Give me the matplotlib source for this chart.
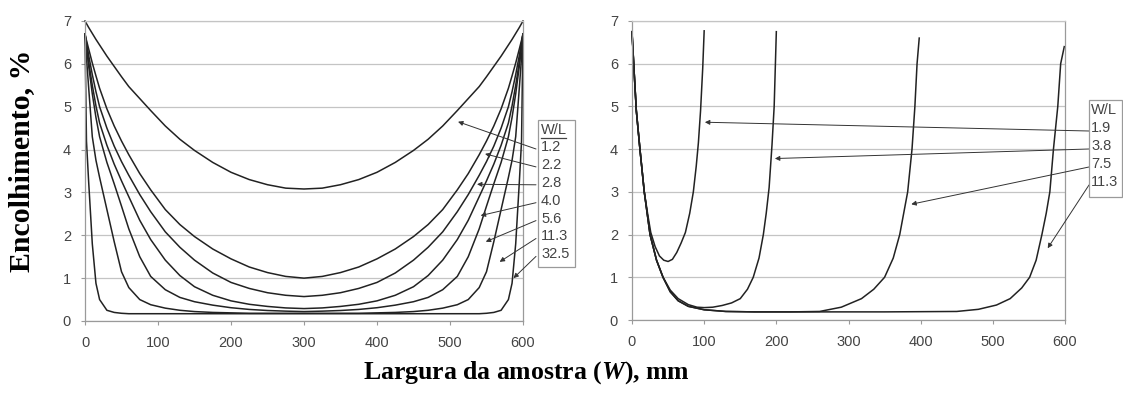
import matplotlib
matplotlib.use('Agg')
import matplotlib.pyplot as plt
import numpy as np
from matplotlib.patches import Rectangle

plt.rcParams['mathtext.fontset'] = 'custom'
plt.rcParams['mathtext.rm'] = 'Liberation Serif:bold'
plt.rcParams['mathtext.it'] = 'Liberation Serif:italic:bold'

# left panel: half curves (0..300 mm), symmetric about 300
x_half = [0, 2, 5, 10, 15, 20, 30, 40, 50, 60, 75, 90, 110, 130, 150, 175, 200, 225, 250, 275, 300]
wl_left = ['1.2', '2.2', '2.8', '4.0', '5.6', '11.3', '32.5']
y_12 = [7.0, 6.94, 6.85, 6.71, 6.57, 6.44, 6.18, 5.94, 5.70, 5.47, 5.19, 4.91, 4.55, 4.24, 3.98, 3.70, 3.47, 3.30, 3.18, 3.10, 3.08]
y_22 = [6.7, 6.55, 6.35, 6.02, 5.72, 5.43, 4.95, 4.55, 4.2, 3.88, 3.44, 3.06, 2.6, 2.25, 1.97, 1.68, 1.45, 1.26, 1.13, 1.04, 1.0]
y_28 = [6.7, 6.5, 6.2, 5.75, 5.35, 5.0, 4.5, 4.08, 3.72, 3.4, 2.95, 2.55, 2.08, 1.72, 1.42, 1.12, 0.9, 0.76, 0.66, 0.6, 0.57]
y_40 = [6.7, 6.45, 6.05, 5.5, 5.02, 4.62, 4.1, 3.66, 3.27, 2.9, 2.35, 1.9, 1.42, 1.06, 0.8, 0.6, 0.47, 0.39, 0.34, 0.305, 0.29]
y_56 = [6.7, 6.4, 5.95, 5.3, 4.75, 4.3, 3.7, 3.2, 2.68, 2.15, 1.5, 1.04, 0.73, 0.55, 0.45, 0.37, 0.31, 0.27, 0.245, 0.23, 0.22]
y_113 = [6.7, 6.15, 5.45, 4.3, 3.75, 3.35, 2.6, 1.85, 1.15, 0.78, 0.5, 0.38, 0.3, 0.25, 0.22, 0.2, 0.19, 0.18, 0.18, 0.18, 0.18]
y_325 = [6.7, 4.2, 3.25, 1.8, 0.88, 0.5, 0.25, 0.2, 0.18, 0.17, 0.17, 0.17, 0.17, 0.17, 0.17, 0.17, 0.17, 0.17, 0.17, 0.17, 0.17]
left_curves = [y_12, y_22, y_28, y_40, y_56, y_113, y_325]
arrow_left_x = [511, 548, 537, 542, 549, 568, 587]
arrow_left_y = [4.65, 3.9, 3.19, 2.46, 1.85, 1.38, 1.0]

# right panel
wl_right = ['1.9', '3.8', '7.5', '11.3']
x_19 = [0, 3, 6, 11, 17, 22, 26, 32, 38, 44, 50, 56, 62, 68, 74, 80, 85, 89, 92, 95, 98, 100]
y_19 = [6.72, 5.8, 4.9, 4.0, 3.0, 2.45, 2.05, 1.72, 1.5, 1.4, 1.37, 1.42, 1.58, 1.8, 2.05, 2.5, 3.0, 3.6, 4.15, 4.9, 5.9, 6.77]
x_38 = [0, 3, 6, 11, 17, 25, 34, 43, 53, 64, 78, 90, 100, 112, 125, 138, 150, 160, 168, 176, 182, 186, 190, 194, 197, 200]
y_38 = [6.75, 5.8, 4.9, 4.0, 3.0, 2.0, 1.4, 1.0, 0.7, 0.5, 0.36, 0.3, 0.29, 0.3, 0.34, 0.4, 0.5, 0.72, 1.0, 1.45, 2.0, 2.5, 3.1, 4.1, 5.0, 6.75]
x_75 = [0, 3, 6, 11, 17, 25, 34, 43, 53, 64, 78, 100, 130, 170, 220, 260, 290, 318, 335, 350, 362, 371, 382, 388, 392, 395, 398]
y_75 = [6.75, 5.8, 4.9, 4.0, 3.0, 2.0, 1.4, 1.0, 0.66, 0.45, 0.32, 0.24, 0.2, 0.19, 0.19, 0.2, 0.3, 0.5, 0.72, 1.0, 1.45, 2.0, 3.0, 4.0, 5.0, 6.0, 6.6]
x_113r = [0, 3, 6, 11, 17, 25, 34, 43, 53, 64, 78, 100, 130, 170, 250, 350, 450, 480, 505, 524, 540, 551, 560, 568, 574, 579, 584, 590, 594, 599]
y_113r = [6.75, 5.8, 4.9, 4.0, 3.0, 2.0, 1.4, 1.0, 0.66, 0.45, 0.32, 0.24, 0.2, 0.19, 0.19, 0.19, 0.2, 0.25, 0.35, 0.5, 0.75, 1.0, 1.4, 2.0, 2.5, 3.0, 4.0, 5.0, 6.0, 6.4]
right_curves = [(x_19, y_19), (x_38, y_38), (x_75, y_75), (x_113r, y_113r)]
arrow_right_x = [101, 198, 387, 576]
arrow_right_y = [4.63, 3.78, 2.71, 1.68]

W, H = 1123, 396
def fp(px, py):
    return (px / W, 1 - py / H)

fig = plt.figure(figsize=(W / 100, H / 100), dpi=100)
ax1 = fig.add_axes([85 / W, 1 - 321 / H, 438 / W, 300 / H])
ax2 = fig.add_axes([632 / W, 1 - 320 / H, 433 / W, 299 / H])

grid_c = '#c4c4c4'
spine_c = '#9a9a9a'
line_c = '#222222'
txt_c = '#444444'

for ax in (ax1, ax2):
    ax.set_xlim(0, 600)
    ax.set_ylim(0, 7)
    ax.set_xticks(np.arange(0, 601, 100))
    ax.set_yticks(np.arange(0, 8, 1))
    ax.grid(axis='y', color=grid_c, lw=0.9)
    ax.set_axisbelow(True)
    for s in ax.spines.values():
        s.set_color(spine_c)
        s.set_linewidth(0.9)
    ax.spines['top'].set_color(grid_c)
    ax.tick_params(direction='out', length=3, color=spine_c, labelcolor=txt_c, labelsize=10.5,
                   labelfontfamily='Liberation Sans')
    ax.tick_params(axis='x', pad=8)
    ax.tick_params(axis='y', pad=7)

x_half_a = np.array(x_half, dtype=float)
x_full = np.concatenate([x_half_a, 600 - x_half_a[-2::-1]])
for y in left_curves:
    y = np.array(y)
    ax1.plot(x_full, np.concatenate([y, y[-2::-1]]), color=line_c, lw=1.1, clip_on=False)

for xs, ys in right_curves:
    ax2.plot(xs, ys, color=line_c, lw=1.1, clip_on=False)

arrow_kw = dict(arrowstyle='-|>', color='#333333', lw=0.7, mutation_scale=7, shrinkA=0, shrinkB=0)

# left legend box
fig.patches.append(Rectangle(fp(538, 267), 37 / W, 147 / H, transform=fig.transFigure,
                             fill=False, edgecolor=spine_c, lw=0.9))
fig.text(*fp(541, 130), 'W/L', fontsize=10.5, color=txt_c, family='Liberation Sans', va='center', ha='left')
fig.add_artist(plt.Line2D([541 / W, 566 / W], [1 - 138 / H, 1 - 138 / H], color=txt_c, lw=0.9))
for i, lab in enumerate(wl_left):
    ly = 147 + i * 17.9
    fig.text(*fp(541, ly), lab, fontsize=10.5, color=txt_c, family='Liberation Sans', va='center', ha='left')
    ax1.annotate('', xy=(arrow_left_x[i], arrow_left_y[i]), xycoords='data',
                 xytext=fp(536, ly + 2), textcoords='figure fraction',
                 arrowprops=arrow_kw, annotation_clip=False)

# right legend box
fig.patches.append(Rectangle(fp(1089, 197), 33 / W, 97 / H, transform=fig.transFigure,
                             fill=False, edgecolor=spine_c, lw=0.9))
fig.text(*fp(1091, 110), 'W/L', fontsize=10.5, color=txt_c, family='Liberation Sans', va='center', ha='left')
for i, lab in enumerate(wl_right):
    ly = 128 + i * 18
    fig.text(*fp(1091, ly), lab, fontsize=10.5, color=txt_c, family='Liberation Sans', va='center', ha='left')
    ax2.annotate('', xy=(arrow_right_x[i], arrow_right_y[i]), xycoords='data',
                 xytext=fp(1089, ly + 3), textcoords='figure fraction',
                 arrowprops=arrow_kw, annotation_clip=False)

fig.text(*fp(22, 161), 'Encolhimento, %', rotation=90, fontsize=21.5, fontweight='bold',
         family='Liberation Serif', ha='center', va='center')
fig.text(*fp(526, 373), r'Largura da amostra ($\mathit{W}$), mm', fontsize=18.5, fontweight='bold',
         family='Liberation Serif', ha='center', va='center')

fig.savefig('out.png', dpi=100)
